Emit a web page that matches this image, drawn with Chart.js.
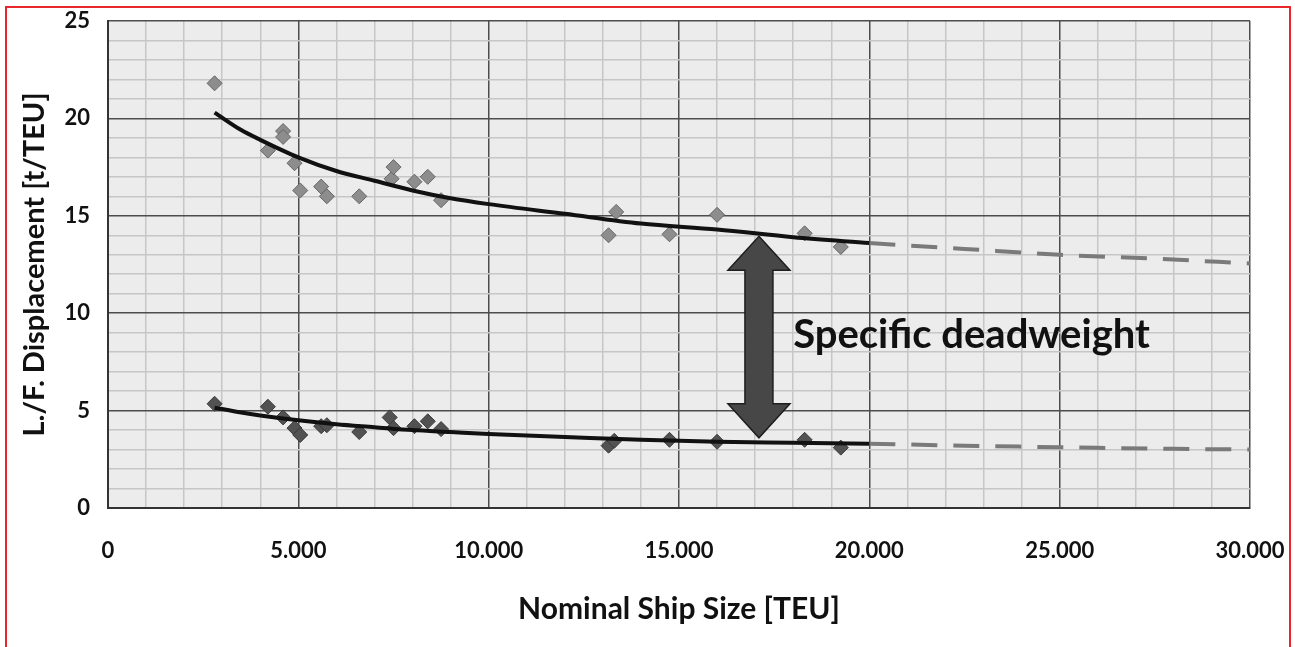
<!DOCTYPE html>
<html>
<head>
<meta charset="utf-8">
<script src="https://cdn.jsdelivr.net/npm/chart.js@4.4.1/dist/chart.umd.min.js"></script>
<style>
    html, body { margin: 0; padding: 0; background: #fff; }
    #wrap { position: relative; width: 1295px; height: 647px; }
    #frame {
        position: absolute; left: 5px; top: 6px; width: 1282px; height: 660px;
        border: 2px solid #e8262b; pointer-events: none;
    }
</style>
</head>
<body>
<div id="wrap">
    <canvas id="chart" width="1295" height="647"></canvas>
    <div id="frame"></div>
</div>
<script>
// ============================================
// DATA
// ============================================
const upperX = [2800, 4200, 4600, 4600, 4900, 5050, 5600, 5750, 6600, 7450, 7500, 8050, 8400, 8750, 13150, 13350, 14750, 16000, 18300, 19250];
const upperY = [21.8, 18.35, 19.35, 19.05, 17.7, 16.3, 16.5, 16.0, 16.0, 16.9, 17.5, 16.75, 17.0, 15.8, 14.0, 15.2, 14.05, 15.05, 14.1, 13.4];

const lowerX = [2800, 4200, 4600, 4900, 5050, 5600, 5750, 6600, 7400, 7500, 8050, 8400, 8750, 13150, 13300, 14750, 16000, 18300, 19250];
const lowerY = [5.35, 5.2, 4.65, 4.1, 3.75, 4.2, 4.25, 3.9, 4.65, 4.1, 4.2, 4.45, 4.05, 3.2, 3.45, 3.5, 3.4, 3.5, 3.1];

// trend curves (solid part, then dashed extension)
const trendX = [2800, 3500, 4000, 5000, 6000, 7000, 8000, 9000, 10000, 12000, 14000, 16000, 18000, 20000];
const upperTrend = [20.3, 19.4, 18.9, 18.0, 17.3, 16.8, 16.3, 15.9, 15.6, 15.1, 14.6, 14.3, 13.9, 13.6];
const lowerTrend = [5.15, 4.9, 4.75, 4.5, 4.3, 4.15, 4.0, 3.9, 3.8, 3.65, 3.5, 3.4, 3.35, 3.3];

const extX = [20000, 22500, 25000, 27500, 30000];
const upperExt = [13.6, 13.3, 13.0, 12.8, 12.55];
const lowerExt = [3.3, 3.2, 3.12, 3.05, 3.0];

// axis labels
const xTickLabels = ['0', '5.000', '10.000', '15.000', '20.000', '25.000', '30.000'];
const yTickLabels = ['0', '5', '10', '15', '20', '25'];

// annotation
const arrowX = 17100;
const arrowTop = 13.95;
const arrowBottom = 3.6;
const noteText = 'Specific deadweight';
const noteX = 18000;
const noteY = 8.9;

const FONT = 'Lato, Calibri, "Open Sans", sans-serif';

const toPoints = (xs, ys) => xs.map((x, i) => ({ x, y: ys[i] }));

// ============================================
// PLUGINS
// ============================================
const plotBackground = {
    id: 'plotBackground',
    beforeDraw(chart) {
        const { ctx, chartArea: a } = chart;
        ctx.save();
        ctx.fillStyle = '#ececec';
        ctx.fillRect(a.left, a.top, a.right - a.left, a.bottom - a.top);
        ctx.restore();
    }
};

const deadweightArrow = {
    id: 'deadweightArrow',
    afterDatasetsDraw(chart) {
        const { ctx, scales: { x, y } } = chart;
        const cx = x.getPixelForValue(arrowX);
        const top = y.getPixelForValue(arrowTop);
        const bot = y.getPixelForValue(arrowBottom);
        const shaft = 14, head = 31, headLen = 34;

        ctx.save();
        ctx.beginPath();
        ctx.moveTo(cx, top);
        ctx.lineTo(cx + head, top + headLen);
        ctx.lineTo(cx + shaft, top + headLen);
        ctx.lineTo(cx + shaft, bot - headLen);
        ctx.lineTo(cx + head, bot - headLen);
        ctx.lineTo(cx, bot);
        ctx.lineTo(cx - head, bot - headLen);
        ctx.lineTo(cx - shaft, bot - headLen);
        ctx.lineTo(cx - shaft, top + headLen);
        ctx.lineTo(cx - head, top + headLen);
        ctx.closePath();
        ctx.fillStyle = '#474747';
        ctx.fill();
        ctx.lineWidth = 1.5;
        ctx.strokeStyle = '#1e1e1e';
        ctx.stroke();

        ctx.fillStyle = '#111';
        ctx.font = `bold 40px ${FONT}`;
        ctx.textAlign = 'left';
        ctx.textBaseline = 'middle';
        ctx.fillText(noteText, x.getPixelForValue(noteX), y.getPixelForValue(noteY));
        ctx.restore();
    }
};

// ============================================
// CHART
// ============================================
const gridColor = (major) => (ctx) =>
    (ctx.tick && ctx.tick.value % major === 0) ? '#4d4d4d' : '#c6c6c6';

new Chart(document.getElementById('chart'), {
    type: 'scatter',
    data: {
        datasets: [
            {
                data: toPoints(trendX, upperTrend),
                showLine: true, borderColor: '#111', borderWidth: 4,
                pointRadius: 0, cubicInterpolationMode: 'monotone', order: 0
            },
            {
                data: toPoints(trendX, lowerTrend),
                showLine: true, borderColor: '#111', borderWidth: 4,
                pointRadius: 0, cubicInterpolationMode: 'monotone', order: 0
            },
            {
                data: toPoints(extX, upperExt),
                showLine: true, borderColor: '#7a7a7a', borderWidth: 4, borderDash: [26, 16],
                pointRadius: 0, cubicInterpolationMode: 'monotone', order: 0
            },
            {
                data: toPoints(extX, lowerExt),
                showLine: true, borderColor: '#7a7a7a', borderWidth: 4, borderDash: [26, 16],
                pointRadius: 0, cubicInterpolationMode: 'monotone', order: 0
            },
            {
                data: toPoints(upperX, upperY),
                pointStyle: 'rectRot', pointRadius: 7.5,
                backgroundColor: '#8d8d8d', borderColor: '#666', borderWidth: 1, order: 1
            },
            {
                data: toPoints(lowerX, lowerY),
                pointStyle: 'rectRot', pointRadius: 7.5,
                backgroundColor: '#525252', borderColor: '#3a3a3a', borderWidth: 1, order: 1
            }
        ]
    },
    options: {
        responsive: false,
        animation: false,
        layout: { padding: { top: 21, right: 45, bottom: 0, left: 0 } },
        plugins: { legend: { display: false }, tooltip: { enabled: false } },
        scales: {
            x: {
                type: 'linear', min: 0, max: 30000,
                afterFit(scale) {
                    scale.height = 139;
                    scale.paddingLeft = 0;
                    scale.paddingRight = 0;
                },
                ticks: {
                    stepSize: 1000, autoSkip: false, maxRotation: 0, padding: 30,
                    color: '#111', font: { family: FONT, size: 22, weight: 'bold' },
                    callback: (v) => v % 5000 === 0 ? xTickLabels[v / 5000] : ''
                },
                grid: { color: gridColor(5000), lineWidth: 1.5, drawTicks: false },
                border: { color: '#333', width: 2 },
                title: {
                    display: true, text: 'Nominal Ship Size [TEU]', color: '#111',
                    font: { family: FONT, size: 30, weight: 'bold' }, padding: { top: 0, bottom: 20 }
                }
            },
            y: {
                min: 0, max: 25,
                afterFit(scale) {
                    scale.width = 108;
                    scale.paddingTop = 0;
                    scale.paddingBottom = 0;
                },
                ticks: {
                    stepSize: 1, autoSkip: false, padding: 18,
                    color: '#111', font: { family: FONT, size: 22, weight: 'bold' },
                    callback: (v) => v % 5 === 0 ? yTickLabels[v / 5] : ''
                },
                grid: { color: gridColor(5), lineWidth: 1.5, drawTicks: false },
                border: { color: '#333', width: 2 },
                title: {
                    display: true, text: 'L./F. Displacement [t/TEU]', color: '#111',
                    font: { family: FONT, size: 29, weight: 'bold' }, padding: { top: 17, bottom: 0 }
                }
            }
        }
    },
    plugins: [plotBackground, deadweightArrow]
});
</script>
</body>
</html>
